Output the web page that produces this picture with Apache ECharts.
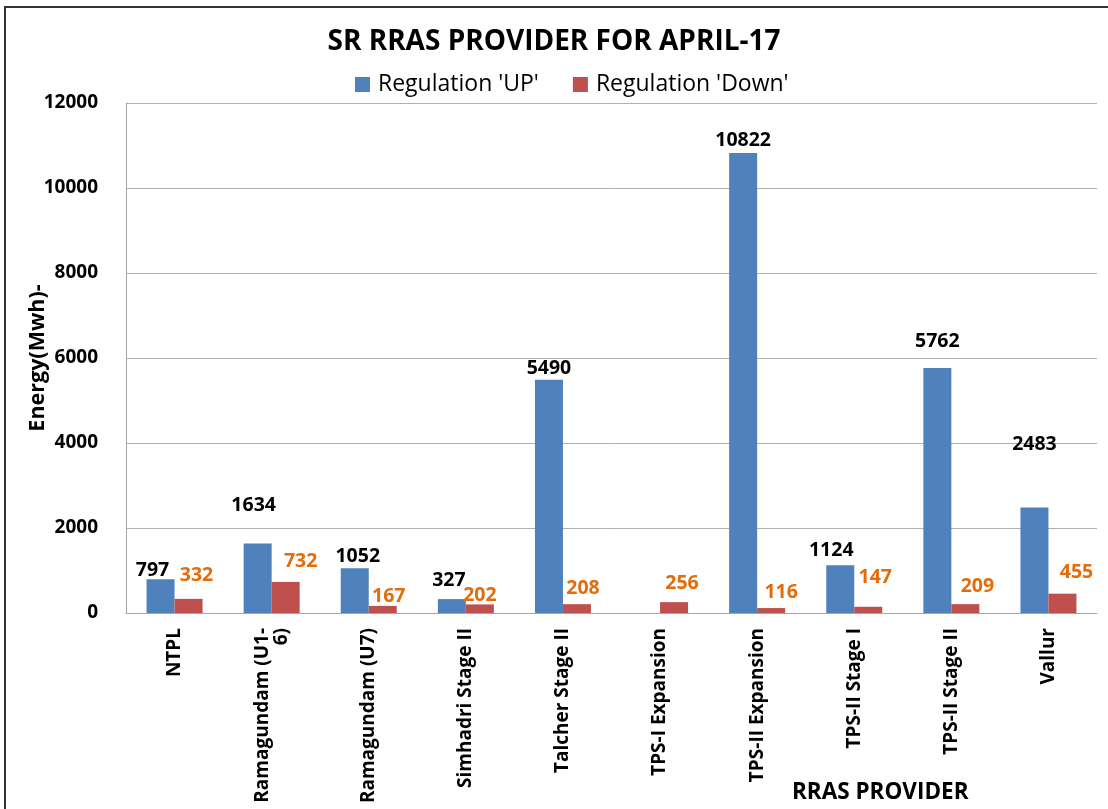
<!DOCTYPE html>
<html>
<head>
<meta charset="utf-8">
<script src="https://cdn.jsdelivr.net/npm/echarts@6/dist/echarts.min.js"></script>
<style>
html,body{margin:0;padding:0;background:#fff;}
#chart{width:1108px;height:809px;}
</style>
</head>
<body>
<div id="chart"></div>
<script>
const categories = ["NTPL", "Ramagundam (U1-6)", "Ramagundam (U7)", "Simhadri Stage II", "Talcher Stage II", "TPS-I Expansion", "TPS-II Expansion", "TPS-II Stage I", "TPS-II Stage II", "Vallur"];
const regulationUp = [797, 1634, 1052, 327, 5490, 0, 10822, 1124, 5762, 2483];
const regulationDown = [332, 732, 167, 202, 208, 256, 116, 147, 209, 455];
const yTicks = [0, 2000, 4000, 6000, 8000, 10000, 12000];

// label nudges (as placed in the original)
const upLabelOffsets = [[-8,4],[-4,-25],[3,1],[-3,-6],[0,2],[0,0],[0,0],[-9,-2],[0,-14],[0,-50]];
const downLabelOffsets = [[8,-10],[15,-7],[6,4],[0,4],[6,-3],[8,-6],[10,-3],[7,-16],[12,-5],[14,-8]];

const font = '"Open Sans", Lato, sans-serif';
const chart = echarts.init(document.getElementById('chart'));
chart.setOption({
  animation: false,
  backgroundColor: '#fff',
  textStyle: {fontFamily: font},
  title: {
    text: 'SR RRAS PROVIDER FOR APRIL-17',
    left: 'center', top: 23,
    textStyle: {fontSize: 28, fontWeight: 'bold', color: '#000', fontFamily: font}
  },
  legend: {
    data: ["Regulation 'UP'", "Regulation 'Down'"],
    top: 68, left: 350,
    icon: 'rect', itemWidth: 15, itemHeight: 15, itemGap: 34, itemStyle: {borderWidth: 0},
    textStyle: {fontSize: 23, color: '#000', fontFamily: font, padding: [0, 0, 0, 3]}
  },
  grid: {left: 126, right: 11, top: 103, bottom: 196, containLabel: false, outerBoundsMode: 'none'},
  xAxis: {
    type: 'category',
    data: categories,
    axisLine: {lineStyle: {color: '#a6a6a6', width: 1}},
    axisTick: {show: false},
    axisLabel: {
      rotate: 90, margin: 15, interval: 0,
      fontSize: 19, fontWeight: 'bold', color: '#000', fontFamily: font,
      formatter: v => v === 'Ramagundam (U1-6)' ? 'Ramagundam (U1-\n6)' : v
    }
  },
  yAxis: {
    type: 'value',
    min: 0, max: 12000, interval: 2000,
    name: 'Energy(Mwh)-',
    nameLocation: 'middle', nameGap: 77, nameMoveOverlap: false,
    nameTextStyle: {fontSize: 21.5, fontWeight: 'bold', color: '#000', fontFamily: font},
    axisLine: {show: true, lineStyle: {color: '#a6a6a6'}},
    axisTick: {show: false},
    splitLine: {lineStyle: {color: '#b0b0b0', width: 1}},
    axisLabel: {
      margin: 28, fontSize: 19, fontWeight: 'bold', color: '#000', fontFamily: font,
      customValues: yTicks,
      formatter: v => String(v)
    }
  },
  series: [
    {
      name: "Regulation 'UP'",
      type: 'bar',
      barWidth: 28, barGap: '0%',
      itemStyle: {color: '#4F81BD'},
      data: regulationUp.map((v, i) => ({
        value: v,
        label: {offset: upLabelOffsets[i]}
      })),
      label: {
        show: true, position: 'top', distance: 3,
        fontSize: 19.5, fontWeight: 'bold', color: '#000', fontFamily: font,
        formatter: p => p.value === 0 ? '' : String(p.value)
      }
    },
    {
      name: "Regulation 'Down'",
      type: 'bar',
      barWidth: 28, barGap: '0%',
      itemStyle: {color: '#C0504D'},
      data: regulationDown.map((v, i) => ({
        value: v,
        label: {offset: downLabelOffsets[i]}
      })),
      label: {
        show: true, position: 'top', distance: 3,
        fontSize: 19.5, fontWeight: 'bold', color: '#E46C0A', fontFamily: font
      }
    }
  ],
  graphic: [
    {
      type: 'rect', silent: true,
      shape: {x: 5, y: 7, width: 1120, height: 820},
      style: {fill: 'none', stroke: '#333', lineWidth: 2}
    },
    {
      type: 'text', left: 792, top: 781,
      style: {text: 'RRAS PROVIDER', fontSize: 22.5, fontWeight: 'bold', fill: '#000', fontFamily: font}
    }
  ]
});
</script>
</body>
</html>
